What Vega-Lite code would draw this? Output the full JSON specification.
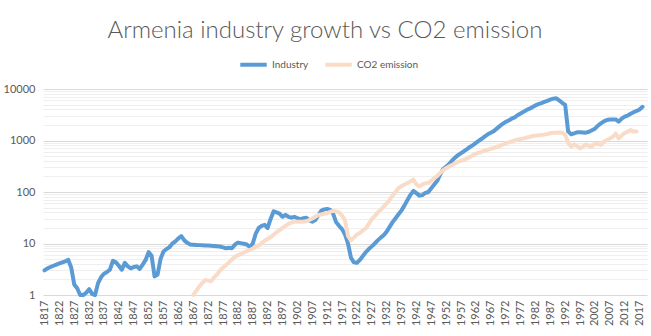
{
  "$schema": "https://vega.github.io/schema/vega-lite/v6.json",
  "width": 604,
  "height": 206,
  "autosize": {"type": "none"},
  "padding": {"left": 43, "top": 89, "right": 4, "bottom": 41},
  "background": "white",
  "title": {"text": "Armenia industry growth vs CO2 emission", "anchor": "middle", "dx": -20, "offset": 6, "fontSize": 24, "font": "Lato", "fontWeight": 300, "color": "#595959"},
  "config": {"view": {"stroke": null}, "font": "Lato"},
  "data": {"values": [
    {"year":1817,"Industry":3.0,"CO2":null},{"year":1818,"Industry":3.3,"CO2":null},{"year":1819,"Industry":3.5,"CO2":null},{"year":1820,"Industry":3.7,"CO2":null},{"year":1821,"Industry":3.9,"CO2":null},{"year":1822,"Industry":4.1,"CO2":null},{"year":1823,"Industry":4.3,"CO2":null},{"year":1824,"Industry":4.5,"CO2":null},{"year":1825,"Industry":4.8,"CO2":null},{"year":1826,"Industry":3.4,"CO2":null},
    {"year":1827,"Industry":1.6,"CO2":null},{"year":1828,"Industry":1.35,"CO2":null},{"year":1829,"Industry":1.0,"CO2":null},{"year":1830,"Industry":1.0,"CO2":null},{"year":1831,"Industry":1.1,"CO2":null},{"year":1832,"Industry":1.3,"CO2":null},{"year":1833,"Industry":1.05,"CO2":null},{"year":1834,"Industry":1.0,"CO2":null},{"year":1835,"Industry":1.7,"CO2":null},{"year":1836,"Industry":2.2,"CO2":null},
    {"year":1837,"Industry":2.6,"CO2":null},{"year":1838,"Industry":2.8,"CO2":null},{"year":1839,"Industry":3.1,"CO2":null},{"year":1840,"Industry":4.6,"CO2":null},{"year":1841,"Industry":4.3,"CO2":null},{"year":1842,"Industry":3.7,"CO2":null},{"year":1843,"Industry":3.1,"CO2":null},{"year":1844,"Industry":4.2,"CO2":null},{"year":1845,"Industry":3.6,"CO2":null},{"year":1846,"Industry":3.3,"CO2":null},
    {"year":1847,"Industry":3.5,"CO2":null},{"year":1848,"Industry":3.6,"CO2":null},{"year":1849,"Industry":3.2,"CO2":null},{"year":1850,"Industry":3.9,"CO2":null},{"year":1851,"Industry":4.8,"CO2":null},{"year":1852,"Industry":6.8,"CO2":null},{"year":1853,"Industry":5.8,"CO2":null},{"year":1854,"Industry":2.3,"CO2":null},{"year":1855,"Industry":2.5,"CO2":null},{"year":1856,"Industry":5.0,"CO2":null},
    {"year":1857,"Industry":7.0,"CO2":null},{"year":1858,"Industry":7.8,"CO2":null},{"year":1859,"Industry":8.5,"CO2":null},{"year":1860,"Industry":10.0,"CO2":null},{"year":1861,"Industry":11.0,"CO2":null},{"year":1862,"Industry":12.6,"CO2":null},{"year":1863,"Industry":13.9,"CO2":null},{"year":1864,"Industry":11.5,"CO2":null},{"year":1865,"Industry":10.3,"CO2":null},{"year":1866,"Industry":9.6,"CO2":null},
    {"year":1867,"Industry":9.5,"CO2":1.0},{"year":1868,"Industry":9.4,"CO2":1.2},{"year":1869,"Industry":9.3,"CO2":1.45},{"year":1870,"Industry":9.2,"CO2":1.7},{"year":1871,"Industry":9.1,"CO2":1.95},{"year":1872,"Industry":9.1,"CO2":1.9},{"year":1873,"Industry":9.0,"CO2":1.85},{"year":1874,"Industry":8.9,"CO2":2.2},{"year":1875,"Industry":8.8,"CO2":2.5},{"year":1876,"Industry":8.7,"CO2":3.0},
    {"year":1877,"Industry":8.4,"CO2":3.4},{"year":1878,"Industry":8.1,"CO2":3.8},{"year":1879,"Industry":8.3,"CO2":4.3},{"year":1880,"Industry":8.1,"CO2":4.9},{"year":1881,"Industry":9.5,"CO2":5.5},{"year":1882,"Industry":10.4,"CO2":5.9},{"year":1883,"Industry":10.1,"CO2":6.2},{"year":1884,"Industry":9.9,"CO2":6.7},{"year":1885,"Industry":9.6,"CO2":7.1},{"year":1886,"Industry":8.5,"CO2":7.5},
    {"year":1887,"Industry":10,"CO2":8.0},{"year":1888,"Industry":15.5,"CO2":8.6},{"year":1889,"Industry":20,"CO2":9.2},{"year":1890,"Industry":22,"CO2":10.2},{"year":1891,"Industry":23,"CO2":11.3},{"year":1892,"Industry":20,"CO2":12.2},{"year":1893,"Industry":30,"CO2":13.2},{"year":1894,"Industry":42,"CO2":14.8},{"year":1895,"Industry":40,"CO2":16.5},{"year":1896,"Industry":38,"CO2":18.3},
    {"year":1897,"Industry":33,"CO2":20},{"year":1898,"Industry":36,"CO2":22},{"year":1899,"Industry":33,"CO2":24},{"year":1900,"Industry":31.7,"CO2":25.5},{"year":1901,"Industry":33,"CO2":26.5},{"year":1902,"Industry":31,"CO2":26.5},{"year":1903,"Industry":29.4,"CO2":26.5},{"year":1904,"Industry":31,"CO2":26.5},{"year":1905,"Industry":31.7,"CO2":27},{"year":1906,"Industry":28,"CO2":28.5},
    {"year":1907,"Industry":26.5,"CO2":30.5},{"year":1908,"Industry":28.5,"CO2":33},{"year":1909,"Industry":35,"CO2":35.7},{"year":1910,"Industry":43,"CO2":36.5},{"year":1911,"Industry":46,"CO2":38},{"year":1912,"Industry":47,"CO2":38.6},{"year":1913,"Industry":45,"CO2":41},{"year":1914,"Industry":38,"CO2":43},{"year":1915,"Industry":26,"CO2":42},{"year":1916,"Industry":22,"CO2":40},
    {"year":1917,"Industry":19,"CO2":35},{"year":1918,"Industry":15,"CO2":28},{"year":1919,"Industry":10,"CO2":14},{"year":1920,"Industry":5.3,"CO2":11.5},{"year":1921,"Industry":4.3,"CO2":13},{"year":1922,"Industry":4.2,"CO2":15},{"year":1923,"Industry":4.8,"CO2":16},{"year":1924,"Industry":5.7,"CO2":18},{"year":1925,"Industry":6.8,"CO2":19.7},{"year":1926,"Industry":7.8,"CO2":24},
    {"year":1927,"Industry":8.8,"CO2":30},{"year":1928,"Industry":10,"CO2":34},{"year":1929,"Industry":11.5,"CO2":40},{"year":1930,"Industry":13,"CO2":45},{"year":1931,"Industry":14.5,"CO2":52},{"year":1932,"Industry":17,"CO2":60},{"year":1933,"Industry":21,"CO2":70},{"year":1934,"Industry":26,"CO2":85},{"year":1935,"Industry":31,"CO2":100},{"year":1936,"Industry":37,"CO2":120},
    {"year":1937,"Industry":44,"CO2":130},{"year":1938,"Industry":55,"CO2":140},{"year":1939,"Industry":70,"CO2":150},{"year":1940,"Industry":88,"CO2":160},{"year":1941,"Industry":105,"CO2":175},{"year":1942,"Industry":95,"CO2":140},{"year":1943,"Industry":85,"CO2":128},{"year":1944,"Industry":87,"CO2":140},{"year":1945,"Industry":96,"CO2":147},{"year":1946,"Industry":100,"CO2":150},
    {"year":1947,"Industry":118,"CO2":165},{"year":1948,"Industry":140,"CO2":185},{"year":1949,"Industry":165,"CO2":205},{"year":1950,"Industry":220,"CO2":235},{"year":1951,"Industry":280,"CO2":265},{"year":1952,"Industry":310,"CO2":290},{"year":1953,"Industry":350,"CO2":315},{"year":1954,"Industry":410,"CO2":335},{"year":1955,"Industry":465,"CO2":360},{"year":1956,"Industry":520,"CO2":385},
    {"year":1957,"Industry":570,"CO2":405},{"year":1958,"Industry":620,"CO2":420},{"year":1959,"Industry":680,"CO2":450},{"year":1960,"Industry":750,"CO2":480},{"year":1961,"Industry":815,"CO2":520},{"year":1962,"Industry":900,"CO2":555},{"year":1963,"Industry":990,"CO2":580},{"year":1964,"Industry":1080,"CO2":605},{"year":1965,"Industry":1200,"CO2":635},{"year":1966,"Industry":1320,"CO2":660},
    {"year":1967,"Industry":1420,"CO2":690},{"year":1968,"Industry":1520,"CO2":710},{"year":1969,"Industry":1700,"CO2":750},{"year":1970,"Industry":1900,"CO2":790},{"year":1971,"Industry":2100,"CO2":830},{"year":1972,"Industry":2300,"CO2":875},{"year":1973,"Industry":2450,"CO2":920},{"year":1974,"Industry":2650,"CO2":960},{"year":1975,"Industry":2800,"CO2":1000},{"year":1976,"Industry":3100,"CO2":1040},
    {"year":1977,"Industry":3350,"CO2":1070},{"year":1978,"Industry":3600,"CO2":1100},{"year":1979,"Industry":3900,"CO2":1140},{"year":1980,"Industry":4150,"CO2":1170},{"year":1981,"Industry":4450,"CO2":1220},{"year":1982,"Industry":4800,"CO2":1240},{"year":1983,"Industry":5100,"CO2":1260},{"year":1984,"Industry":5300,"CO2":1280},{"year":1985,"Industry":5600,"CO2":1300},{"year":1986,"Industry":5900,"CO2":1340},
    {"year":1987,"Industry":6200,"CO2":1380},{"year":1988,"Industry":6500,"CO2":1420},{"year":1989,"Industry":6600,"CO2":1420},{"year":1990,"Industry":6000,"CO2":1430},{"year":1991,"Industry":5400,"CO2":1420},{"year":1992,"Industry":4900,"CO2":1300},{"year":1993,"Industry":1500,"CO2":900},{"year":1994,"Industry":1320,"CO2":760},{"year":1995,"Industry":1380,"CO2":840},{"year":1996,"Industry":1440,"CO2":780},
    {"year":1997,"Industry":1440,"CO2":700},{"year":1998,"Industry":1430,"CO2":760},{"year":1999,"Industry":1420,"CO2":840},{"year":2000,"Industry":1480,"CO2":780},{"year":2001,"Industry":1580,"CO2":760},{"year":2002,"Industry":1700,"CO2":880},{"year":2003,"Industry":1950,"CO2":850},{"year":2004,"Industry":2150,"CO2":820},{"year":2005,"Industry":2350,"CO2":950},{"year":2006,"Industry":2500,"CO2":1010},
    {"year":2007,"Industry":2550,"CO2":1100},{"year":2008,"Industry":2570,"CO2":1170},{"year":2009,"Industry":2570,"CO2":1370},{"year":2010,"Industry":2320,"CO2":1100},{"year":2011,"Industry":2650,"CO2":1250},{"year":2012,"Industry":2900,"CO2":1400},{"year":2013,"Industry":3050,"CO2":1490},{"year":2014,"Industry":3300,"CO2":1590},{"year":2015,"Industry":3540,"CO2":1490},{"year":2016,"Industry":3750,"CO2":1490},
    {"year":2017,"Industry":4000,"CO2":null},{"year":2018,"Industry":4500,"CO2":null}
  ]},
  "encoding": {
    "x": {"field": "year", "type": "quantitative",
      "scale": {"domain": [1816.5, 2019.5], "nice": false, "zero": false},
      "axis": {"title": null, "values": [1817,1822,1827,1832,1837,1842,1847,1852,1857,1862,1867,1872,1877,1882,1887,1892,1897,1902,1907,1912,1917,1922,1927,1932,1937,1942,1947,1952,1957,1962,1967,1972,1977,1982,1987,1992,1997,2002,2007,2012,2017],
        "format": "d", "labelAngle": -90, "grid": false, "ticks": false, "domain": false, "labelFontSize": 11, "labelColor": "#595959", "labelPadding": 5, "labelOverlap": false, "labelFlush": false}
    }
  },
  "layer": [
    {"mark": {"type": "line", "strokeWidth": 4, "strokeJoin": "round", "strokeCap": "round"},
     "encoding": {
       "y": {"field": "Industry", "type": "quantitative",
         "scale": {"type": "log", "domain": [1, 10000], "nice": false},
         "axis": {"title": null, "values": [1,2,3,4,5,6,7,8,9,10,20,30,40,50,60,70,80,90,100,200,300,400,500,600,700,800,900,1000,2000,3000,4000,5000,6000,7000,8000,9000,10000],
           "format": "d", "labelExpr": "indexof([1,10,100,1000,10000], datum.value) >= 0 ? datum.label : ''",
           "ticks": false, "domain": false, "labelFontSize": 11, "labelColor": "#595959", "labelPadding": 8,
           "gridColor": {"condition": {"test": "indexof([1,10,100,1000,10000], datum.value) >= 0", "value": "#D9D9D9"}, "value": "#EFEFEF"},
           "gridWidth": 1}},
       "color": {"datum": "Industry", "type": "nominal",
         "scale": {"domain": ["Industry", "CO2 emission"], "range": ["#5B9BD5", "#F9DCC8"]},
         "legend": {"title": null, "orient": "none", "legendX": 195, "legendY": -40, "direction": "horizontal",
           "symbolType": "stroke", "symbolStrokeWidth": 4, "symbolSize": 700, "labelFontSize": 10, "labelColor": "#595959", "columnPadding": 8, "labelOffset": 3}}
     }},
    {"mark": {"type": "line", "strokeWidth": 4, "strokeJoin": "round", "strokeCap": "round"},
     "encoding": {
       "y": {"field": "CO2", "type": "quantitative"},
       "color": {"datum": "CO2 emission", "type": "nominal"}
     }}
  ]
}
